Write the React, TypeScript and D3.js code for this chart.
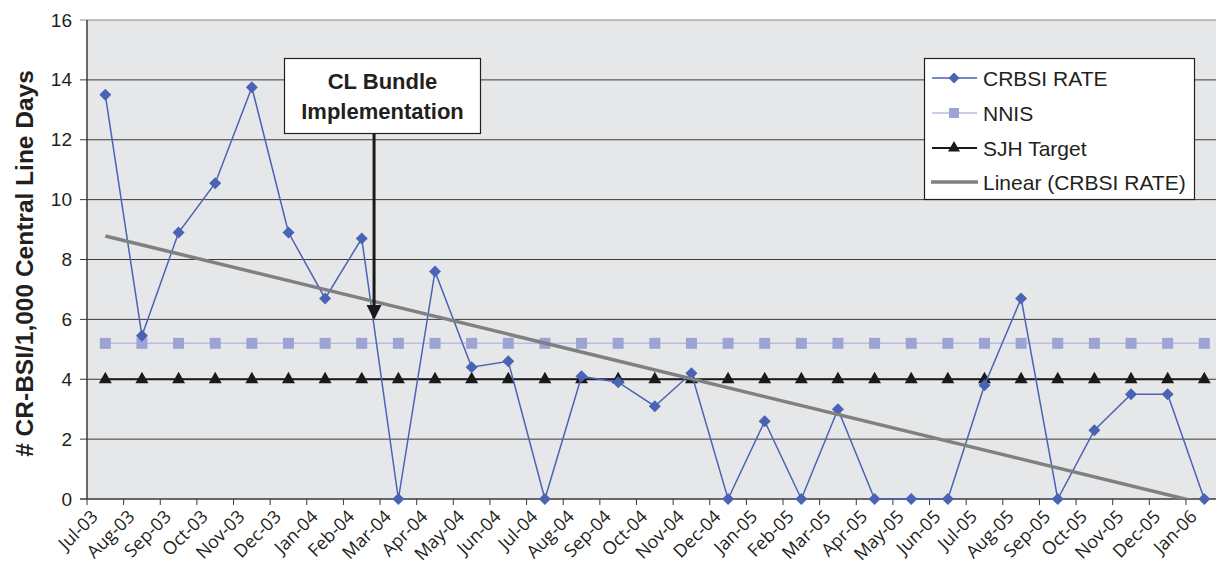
import React from "react";
import * as d3 from "d3";

const categories = [
  "Jul-03","Aug-03","Sep-03","Oct-03","Nov-03","Dec-03","Jan-04","Feb-04","Mar-04","Apr-04",
  "May-04","Jun-04","Jul-04","Aug-04","Sep-04","Oct-04","Nov-04","Dec-04","Jan-05","Feb-05",
  "Mar-05","Apr-05","May-05","Jun-05","Jul-05","Aug-05","Sep-05","Oct-05","Nov-05","Dec-05","Jan-06",
];
const crbsiRate = [
  13.5, 5.45, 8.9, 10.55, 13.75, 8.9, 6.7, 8.7, 0, 7.6,
  4.4, 4.6, 0, 4.1, 3.9, 3.1, 4.2, 0, 2.6, 0,
  3.0, 0, 0, 0, 3.8, 6.7, 0, 2.3, 3.5, 3.5, 0,
];
const nnis = categories.map(() => 5.2);
const sjhTarget = categories.map(() => 4.0);
const yTicks = [0, 2, 4, 6, 8, 10, 12, 14, 16];
const legendLabels = ["CRBSI RATE", "NNIS", "SJH Target", "Linear (CRBSI RATE)"];
const annotationLines = ["CL Bundle", "Implementation"];
const yTitle = "# CR-BSI/1,000 Central Line Days";

const W = 1216, H = 569;
const L = 87, R = 1222.6, T = 20, B = 499;

const BLUE = "#4a63b4";
const NNIS_MK = "#9da4d4";
const NNIS_LN = "#b6bde6";
const BLACK = "#1a1a1a";
const GRAY = "#808080";

export default function App() {
  const x = d3.scaleBand<string>().domain(categories).range([L, R]).padding(0);
  const cx = (c: string) => (x(c) as number) + x.bandwidth() / 2;
  const y = d3.scaleLinear().domain([0, 16]).range([B, T]);

  // linear trend (least squares) of CRBSI rate
  const idx = crbsiRate.map((_, i) => i);
  const mx = d3.mean(idx) as number;
  const my = d3.mean(crbsiRate) as number;
  const sxy = d3.sum(idx, (i) => (i - mx) * (crbsiRate[i] - my));
  const sxx = d3.sum(idx, (i) => (i - mx) * (i - mx));
  const slope = sxy / sxx;
  const icpt = my - slope * mx;
  const trend = [0, categories.length - 1].map((i) => [cx(categories[i]), y(icpt + slope * i)] as [number, number]);

  const line = d3.line<number>().x((_, i) => cx(categories[i])).y((d) => y(d));

  const diamond = (px: number, py: number, s = 6) =>
    `M${px},${py - s}L${px + s},${py}L${px},${py + s}L${px - s},${py}Z`;
  const triangle = (px: number, py: number, s = 6.5) =>
    `M${px},${py - s}L${px + s},${py + s * 0.75}L${px - s},${py + s * 0.75}Z`;

  const arrowX = (x("Mar-04") as number) - 6;

  const legendY = [78, 113, 148, 182];

  return (
    <svg width={W} height={H} style={{ position: "absolute", left: 0, top: 0, background: "#fff" }}
      fontFamily="'Liberation Sans', Arial, sans-serif">
      <defs>
        <clipPath id="plotclip">
          <rect x={L} y={T} width={R - L} height={B - T} />
        </clipPath>
      </defs>
      <rect x={L} y={T} width={R - L} height={B - T} fill="#e6e7e9" />
      {yTicks.map((t) => (
        <g key={t}>
          <line x1={80} x2={R} y1={y(t)} y2={y(t)} stroke={t === 16 ? "#8a8a8a" : "#3a3a3a"} strokeWidth={t === 0 ? 1.5 : 1} />
          <text x={72} y={y(t)} textAnchor="end" dominantBaseline="central" fontSize={19} fill="#231f20">{t}</text>
        </g>
      ))}
      <line x1={L} x2={L} y1={T} y2={B} stroke="#3a3a3a" strokeWidth={1.5} />
      {categories.map((c) => (
        <line key={"t" + c} x1={x(c) as number} x2={x(c) as number} y1={B} y2={B + 6} stroke="#3a3a3a" strokeWidth={1} />
      ))}
      {categories.map((c) => (
        <text key={"l" + c} transform={`translate(${cx(c) - 10},${B + 15}) rotate(-45)`} textAnchor="end"
          fontFamily="'Open Sans', sans-serif" fontSize={18} fill="#231f20" dy="0.3em">{c}</text>
      ))}
      <text transform={`translate(33,${(T + B) / 2 + 4}) rotate(-90)`} textAnchor="middle" fontSize={24.5}
        fontWeight="bold" fill="#231f20">{yTitle}</text>

      {/* SJH target */}
      <path d={line(sjhTarget) as string} fill="none" stroke={BLACK} strokeWidth={2} />
      {sjhTarget.map((v, i) => (
        <path key={"s" + i} d={triangle(cx(categories[i]), y(v) - 1)} fill={BLACK} />
      ))}
      {/* NNIS */}
      <path d={line(nnis) as string} fill="none" stroke={NNIS_LN} strokeWidth={1.5} />
      {nnis.map((v, i) => (
        <rect key={"n" + i} x={cx(categories[i]) - 5.5} y={y(v) - 5.5} width={11} height={11} fill={NNIS_MK} />
      ))}
      {/* CRBSI */}
      <path d={line(crbsiRate) as string} fill="none" stroke={BLUE} strokeWidth={1.5} />
      {crbsiRate.map((v, i) => (
        <path key={"c" + i} d={diamond(cx(categories[i]), y(v))} fill={BLUE} />
      ))}
      {/* Trend */}
      <g clipPath="url(#plotclip)">
        <line x1={trend[0][0]} y1={trend[0][1]} x2={trend[1][0]} y2={trend[1][1]} stroke={GRAY} strokeWidth={3.5} />
      </g>

      {/* Annotation */}
      <line x1={arrowX} x2={arrowX} y1={133} y2={308} stroke={BLACK} strokeWidth={3} />
      <path d={`M${arrowX - 7.5},${305}L${arrowX + 7.5},${305}L${arrowX},${320}Z`} fill={BLACK} />
      <rect x={284.5} y={58.5} width={196} height={75} fill="#fff" stroke="#231f20" strokeWidth={1.2} />
      {annotationLines.map((s, i) => (
        <text key={s} x={382.5} y={89 + i * 30} textAnchor="middle" fontSize={22} fontWeight="bold" fill="#231f20">{s}</text>
      ))}

      {/* Legend */}
      <rect x={924.5} y={58.5} width={270} height={141} fill="#fff" stroke="#231f20" strokeWidth={1.2} />
      {legendLabels.map((s, i) => {
        const ly = legendY[i];
        return (
          <g key={s}>
            {i === 0 && (<>
              <line x1={932} x2={977} y1={ly} y2={ly} stroke={BLUE} strokeWidth={1.5} />
              <path d={diamond(954, ly, 5.5)} fill={BLUE} />
            </>)}
            {i === 1 && (<>
              <line x1={932} x2={977} y1={ly} y2={ly} stroke={NNIS_LN} strokeWidth={1.5} />
              <rect x={949} y={ly - 5} width={10} height={10} fill={NNIS_MK} />
            </>)}
            {i === 2 && (<>
              <line x1={932} x2={977} y1={ly} y2={ly} stroke={BLACK} strokeWidth={2} />
              <path d={triangle(954, ly - 1, 6)} fill={BLACK} />
            </>)}
            {i === 3 && (
              <line x1={931} x2={978} y1={ly} y2={ly} stroke={GRAY} strokeWidth={3.5} />
            )}
            <text x={983} y={ly} dominantBaseline="central" fontSize={21} fill="#231f20">{s}</text>
          </g>
        );
      })}
    </svg>
  );
}
